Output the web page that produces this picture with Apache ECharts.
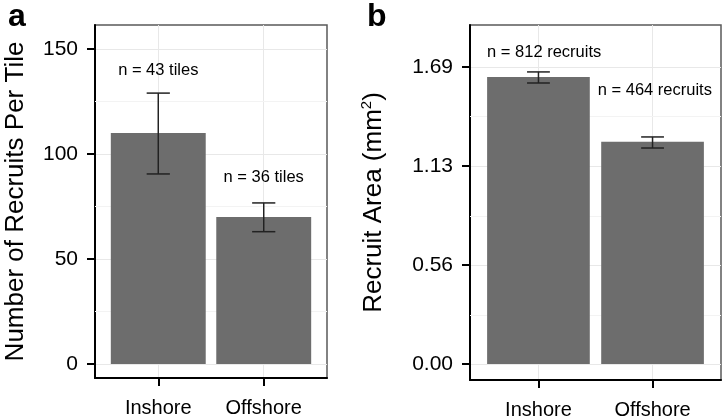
<!DOCTYPE html>
<html>
<head>
<meta charset="utf-8">
<script src="https://cdn.jsdelivr.net/npm/echarts@6/dist/echarts.min.js"></script>
<style>
html,body{margin:0;padding:0;background:#fff;}
#chart{width:722px;height:420px;}
</style>
</head>
<body>
<div id="chart"></div>
<script>
// ---- data ----
const categories = ['Inshore', 'Offshore'];
const catPos = [1, 2];

// panel a: number of recruits per tile
const countMean = [110, 70];
const countLow = [90.5, 63];
const countHigh = [129, 76.7];
const countLabels = ['n = 43 tiles', 'n = 36 tiles'];
const countLabelY = [140, 88.6];
const countTicks = [0, 50, 100, 150];

// panel b: recruit area (mm^2)
const areaMean = [1.633, 1.264];
const areaLow = [1.599, 1.229];
const areaHigh = [1.662, 1.292];
const areaLabels = ['n = 812 recruits', 'n = 464 recruits'];
const areaLabelY = [1.775, 1.559];
const areaTicks = [0, 0.5633, 1.1267, 1.69];
const areaTickLabels = ['0.00', '0.56', '1.13', '1.69'];

// ---- chart ----
const FONT = '"Liberation Sans", Arial, Helvetica, sans-serif';
const BAR = '#6d6d6d';
const TXT = '#000';
const GRID_MAJOR = '#e8e8e8';
const GRID_MINOR = '#f3f3f3';

function mids(t) { const r = []; for (let i = 0; i < t.length - 1; i++) r.push((t[i] + t[i + 1]) / 2); return r; }

function xAxisCfg(gi) {
  return {
    gridIndex: gi, type: 'value', min: 0.4, max: 2.6,
    axisLine: { show: true, onZero: false, lineStyle: { color: '#000', width: 2 } },
    axisTick: { show: true, customValues: catPos, length: 8, lineStyle: { color: '#000', width: 2 } },
    axisLabel: { customValues: catPos, margin: 20, color: TXT, fontSize: 20, fontFamily: FONT,
      formatter: v => categories[Math.round(v) - 1] },
    splitLine: { show: true, lineStyle: { color: GRID_MAJOR, width: 1 } }
  };
}
function yAxisCfg(gi, min, max, ticks, fmt, name, gap, rich) {
  return {
    gridIndex: gi, type: 'value', min: min, max: max,
    axisLine: { show: true, onZero: false, lineStyle: { color: '#000', width: 2 } },
    axisTick: { show: true, customValues: ticks, length: 8, lineStyle: { color: '#000', width: 2 } },
    axisLabel: { customValues: ticks, margin: 17, color: TXT, fontSize: 21, fontFamily: FONT, formatter: fmt },
    splitLine: { show: true, lineStyle: { color: GRID_MAJOR, width: 1 } },
    name: name, nameLocation: 'middle', nameGap: gap,
    nameTextStyle: { fontSize: 26, color: TXT, fontFamily: FONT, rich: rich }
  };
}

function barSeries(gi, mean) {
  return {
    type: 'custom', xAxisIndex: gi, yAxisIndex: gi, z: 10,
    data: catPos.map((x, i) => [x, mean[i]]),
    renderItem: (params, api) => {
      const x = api.value(0), y = api.value(1);
      const p0 = api.coord([x - 0.45, 0]);
      const p1 = api.coord([x + 0.45, y]);
      return { type: 'rect', shape: { x: p0[0], y: p1[1], width: p1[0] - p0[0], height: p0[1] - p1[1] },
        style: { fill: BAR } };
    }
  };
}
function errSeries(gi, low, high, cap) {
  return {
    type: 'custom', xAxisIndex: gi, yAxisIndex: gi, z: 11,
    data: catPos.map((x, i) => [x, low[i], high[i]]),
    renderItem: (params, api) => {
      const x = api.value(0);
      const lo = api.coord([x, api.value(1)]);
      const hi = api.coord([x, api.value(2)]);
      const l = api.coord([x - cap, 0])[0], r = api.coord([x + cap, 0])[0];
      const st = { stroke: '#222', lineWidth: 1.5 };
      return { type: 'group', children: [
        { type: 'line', shape: { x1: lo[0], y1: lo[1], x2: hi[0], y2: hi[1] }, style: st },
        { type: 'line', shape: { x1: l, y1: lo[1], x2: r, y2: lo[1] }, style: st },
        { type: 'line', shape: { x1: l, y1: hi[1], x2: r, y2: hi[1] }, style: st }
      ] };
    }
  };
}
function textSeries(gi, xs, ys, labels, size) {
  return {
    type: 'custom', xAxisIndex: gi, yAxisIndex: gi, z: 12,
    data: xs.map((x, i) => [x, ys[i], i]),
    renderItem: (params, api) => {
      const p = api.coord([api.value(0), api.value(1)]);
      return { type: 'text', x: p[0], y: p[1],
        style: { text: labels[api.value(2)], fill: TXT, font: size + 'px ' + FONT, align: 'center', verticalAlign: 'middle' } };
    }
  };
}
function minorSeries(gi, vals) {
  return {
    type: 'line', xAxisIndex: gi, yAxisIndex: gi, z: 1, data: [], silent: true,
    markLine: { silent: true, z: 1, symbol: 'none', label: { show: false },
      lineStyle: { color: GRID_MINOR, width: 1, type: 'solid' },
      data: vals.map(v => ({ yAxis: v })) }
  };
}

const chart = echarts.init(document.getElementById('chart'), null, { renderer: 'canvas' });
chart.setOption({
  animation: false,
  backgroundColor: '#fff',
  title: [
    { text: 'a', left: 3, top: -4, textStyle: { fontSize: 32, fontWeight: 'bold', color: TXT, fontFamily: FONT } },
    { text: 'b', left: 362, top: -4, textStyle: { fontSize: 32, fontWeight: 'bold', color: TXT, fontFamily: FONT } }
  ],
  grid: [
    { left: 95, top: 25, width: 232, height: 353, show: true, backgroundColor: '#fff', borderColor: '#5a5a5a', borderWidth: 1.5 },
    { left: 470, top: 25, width: 251, height: 355, show: true, backgroundColor: '#fff', borderColor: '#5a5a5a', borderWidth: 1.5 }
  ],
  xAxis: [xAxisCfg(0), xAxisCfg(1)],
  yAxis: [
    yAxisCfg(0, -6.67, 161.43, countTicks, v => String(Math.round(v)), 'Number of Recruits Per Tile', 66, {}),
    yAxisCfg(1, -0.091, 1.929, areaTicks, v => {
      const i = areaTicks.findIndex(t => Math.abs(t - v) < 1e-6); return i >= 0 ? areaTickLabels[i] : v.toFixed(2);
    }, 'Recruit Area (mm{sup|2})', 81, { sup: { fontSize: 15, fontFamily: FONT, color: TXT, verticalAlign: 'top', lineHeight: 30 } })
  ],
  series: [
    minorSeries(0, mids(countTicks).concat([175])),
    barSeries(0, countMean),
    errSeries(0, countLow, countHigh, 0.11),
    textSeries(0, [1, 2], countLabelY, countLabels, 16.5),
    minorSeries(1, mids(areaTicks)),
    barSeries(1, areaMean),
    errSeries(1, areaLow, areaHigh, 0.1),
    textSeries(1, [1.05, 2.02], areaLabelY, areaLabels, 16.5)
  ]
});
</script>
</body>
</html>
